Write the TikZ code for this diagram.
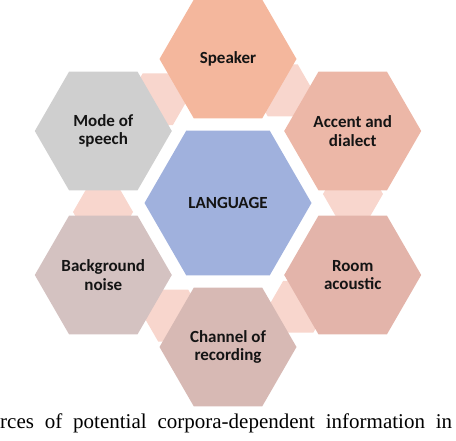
\documentclass[tikz,border=0pt]{standalone}
\usepackage{fontspec}
\setmainfont{Liberation Serif}
\newfontfamily\labfont{Carlito}
\usetikzlibrary{shapes.geometric}
\definecolor{cSpk}{RGB}{244,183,157}
\definecolor{cAcc}{RGB}{236,183,167}
\definecolor{cRoom}{RGB}{227,180,170}
\definecolor{cChan}{RGB}{215,185,180}
\definecolor{cBack}{RGB}{212,194,193}
\definecolor{cMode}{RGB}{207,207,207}
\definecolor{cLang}{RGB}{160,177,221}
\definecolor{cLink}{RGB}{248,214,205}
\definecolor{cText}{RGB}{20,20,20}
\begin{document}
\begin{tikzpicture}[x=1pt,y=1pt,
  hexa/.style={regular polygon, regular polygon sides=6, inner sep=0pt, draw=none,
    font=\labfont\bfseries\fontsize{17}{18.5}\selectfont, align=center, text=cText},
  outer/.style={hexa, minimum size=137pt},
  link/.style={regular polygon, regular polygon sides=6, minimum size=60pt, inner sep=0pt, draw=none, fill=cLink},
]
\useasboundingbox (0,0) rectangle (456,440);
\coordinate (C) at (228,237);
% connector hexagons (behind)
\node[link] (l1) at ([shift={(4.1:125.3)}]C) {};
\node[link] (l2) at ([shift={(64.1:125.3)}]C) {};
\node[link] (l3) at ([shift={(124.1:125.3)}]C) {};
\node[link] (l4) at ([shift={(184.1:125.3)}]C) {};
\node[link] (l5) at ([shift={(244.1:125.3)}]C) {};
\node[link] (l6) at ([shift={(304.1:125.3)}]C) {};
% outer hexagons
\node[outer, fill=cSpk]  (spk)  at ([shift={(90:144)}]C)  {Speaker};
\node[outer, fill=cAcc]  (acc)  at ([shift={(30:144)}]C)  {Accent and\\dialect};
\node[outer, fill=cRoom] (room) at ([shift={(-30:144)}]C) {Room\\acoustic};
\node[outer, fill=cChan] (chan) at ([shift={(-90:144)}]C) {Channel of\\recording};
\node[outer, fill=cBack] (back) at ([shift={(210:144)}]C) {Background\\noise};
\node[outer, fill=cMode] (mode) at ([shift={(150:144)}]C) {Mode of\\speech};
% centre
\node[hexa, minimum size=167pt, fill=cLang] (lang) at (C) {LANGUAGE};
% caption fragment
\node[anchor=base west, inner sep=0pt, font=\fontsize{21}{24}\selectfont] (cap) at (0,12)
  {\makebox[452pt][s]{rces of potential corpora-dependent information in}};
\end{tikzpicture}
\end{document}
